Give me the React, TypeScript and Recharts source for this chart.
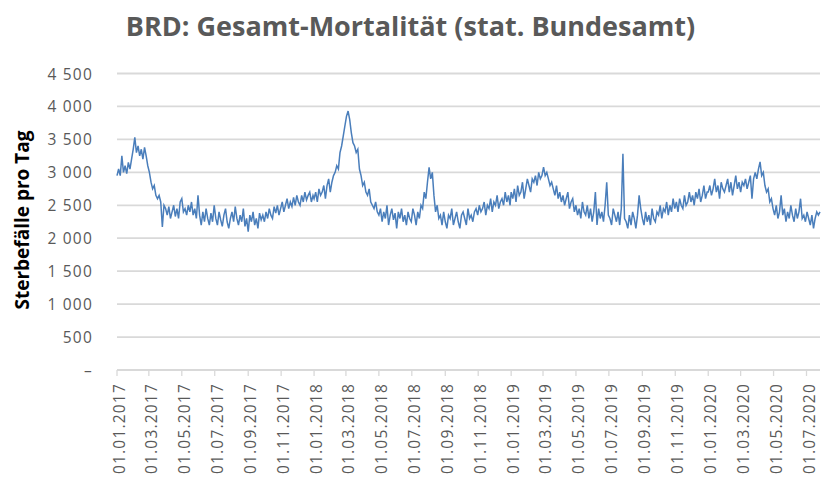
import { LineChart, Line, XAxis, YAxis, CartesianGrid } from "recharts";

// x axis: one label every two months
const tickLabels = [
  "01.01.2017", "01.03.2017", "01.05.2017", "01.07.2017", "01.09.2017", "01.11.2017",
  "01.01.2018", "01.03.2018", "01.05.2018", "01.07.2018", "01.09.2018", "01.11.2018",
  "01.01.2019", "01.03.2019", "01.05.2019", "01.07.2019", "01.09.2019", "01.11.2019",
  "01.01.2020", "01.03.2020", "01.05.2020", "01.07.2020",
];

const yTicks = [0, 500, 1000, 1500, 2000, 2500, 3000, 3500, 4000, 4500];

// deaths per day, one reading every 3 days starting Jan 1 of each year
const STEP = 3;

const deaths2017 = [
  2950, 3050, 2950, 3250, 3000, 3100, 2980, 3150, 3050, 3200,
  3350, 3530, 3300, 3400, 3250, 3350, 3200, 3380, 3250, 3100,
  3000, 2850, 2750, 2800, 2650, 2600, 2650, 2550, 2170, 2500,
  2450, 2350, 2480, 2300, 2400, 2500, 2330, 2450, 2300, 2550,
  2600, 2400, 2450, 2350, 2500, 2400, 2550, 2350, 2450, 2300,
  2650, 2350, 2200, 2400, 2250, 2450, 2300, 2200, 2380, 2250,
  2500, 2300, 2200, 2400, 2280, 2180, 2350, 2450, 2250, 2150,
  2300, 2400, 2250, 2480, 2300, 2200, 2350, 2250, 2450, 2180,
  2300, 2100, 2350, 2250, 2400, 2200, 2300, 2150, 2380, 2280,
  2350, 2250, 2400, 2300, 2450, 2350, 2300, 2480, 2380, 2500,
  2350, 2450, 2550, 2400, 2500, 2600, 2450, 2550, 2480, 2620,
  2500, 2650, 2550, 2500, 2650, 2550, 2700, 2580, 2650, 2700,
  2550, 2650,
];

const deaths2018 = [
  2600, 2700, 2550, 2750, 2650, 2700, 2800, 2600, 2800, 2900,
  2700, 2850, 2950, 3000, 3100, 3050, 3300, 3400, 3550, 3700,
  3850, 3930, 3800, 3600, 3450, 3400, 3300, 3350, 3050, 2950,
  2800, 2850, 2700, 2650, 2750, 2550, 2500, 2450, 2550, 2400,
  2350, 2450, 2250, 2400, 2300, 2500, 2200, 2350, 2450, 2280,
  2380, 2150, 2400, 2300, 2450, 2250, 2350, 2200, 2400, 2300,
  2250, 2450, 2350, 2200, 2400, 2300, 2500, 2450, 2700, 2600,
  2850, 3075, 2900, 3000, 2650, 2400, 2500, 2300, 2350, 2200,
  2400, 2250, 2150, 2350, 2300, 2450, 2200, 2300, 2400, 2250,
  2150, 2350, 2400, 2300, 2200, 2450, 2300, 2350, 2250, 2400,
  2450, 2350, 2500, 2400, 2450, 2550, 2350, 2500, 2450, 2600,
  2400, 2550, 2500, 2650, 2450, 2550, 2600, 2500, 2700, 2550,
  2650, 2500,
];

const deaths2019 = [
  2700, 2600, 2750, 2550, 2800, 2650, 2700, 2850, 2600, 2750,
  2900, 2800, 2700, 2900, 2850, 2950, 2800, 3000, 2900, 2950,
  3080, 2950, 3000, 2900, 2800, 2850, 2750, 2650, 2800, 2600,
  2700, 2550, 2650, 2500, 2600, 2700, 2450, 2550, 2600, 2400,
  2500, 2350, 2450, 2300, 2550, 2400, 2350, 2500, 2300, 2450,
  2250, 2400, 2700, 2200, 2450, 2300, 2400, 2250, 2500, 2850,
  2350, 2300, 2200, 2450, 2350, 2250, 2400, 2200, 2450, 3280,
  2300, 2250, 2150, 2350, 2200, 2400, 2300, 2150, 2350, 2650,
  2450, 2300, 2200, 2400, 2250, 2350, 2200, 2450, 2300, 2250,
  2400, 2350, 2500, 2300, 2450, 2400, 2550, 2350, 2500, 2400,
  2600, 2450, 2550, 2400, 2600, 2500, 2450, 2650, 2500, 2550,
  2700, 2550, 2650, 2500, 2700, 2600, 2750, 2550, 2650, 2800,
  2600, 2700,
];

const deaths2020 = [
  2700, 2800, 2650, 2750, 2900, 2700, 2800, 2600, 2850, 2750,
  2700, 2800, 2900, 2700, 2850, 2650, 2800, 2950, 2750, 2850,
  2700, 2850, 2800, 2900, 2750, 2850, 2950, 2600, 2900, 3000,
  2900, 3050, 3160, 2950, 3000, 2800, 2700, 2750, 2550, 2600,
  2450, 2350, 2500, 2300, 2400, 2650, 2350, 2450, 2250, 2400,
  2300, 2500, 2350, 2250, 2450, 2300, 2400, 2600, 2300, 2350,
  2250, 2400, 2300, 2200, 2350, 2150, 2300, 2400, 2350, 2400,
];

const dayOf = (label: string) => {
  const [d, m, y] = label.split(".").map(Number);
  return (Date.UTC(y, m - 1, d) - Date.UTC(2017, 0, 1)) / 86400000;
};

const years = [
  { start: "01.01.2017", values: deaths2017 },
  { start: "01.01.2018", values: deaths2018 },
  { start: "01.01.2019", values: deaths2019 },
  { start: "01.01.2020", values: deaths2020 },
];

const data = years.flatMap((yr) =>
  yr.values.map((v, i) => ({ day: dayOf(yr.start) + i * STEP, deaths: v }))
);

const xTicks = tickLabels.map(dayOf);
const lastDay = data[data.length - 1].day;

const fmtY = (v: number) =>
  v === 0 ? "–" : v >= 1000 ? `${Math.floor(v / 1000)} ${String(v % 1000).padStart(3, "0")}` : String(v);

const FONT = "'Open Sans', sans-serif";
const GREY = "#595959";

const XTick = (props: any) => {
  const { x, y, payload } = props;
  const idx = xTicks.indexOf(payload.value);
  return (
    <text
      transform={`translate(${x + 2},${y}) rotate(-90)`}
      textAnchor="end"
      dominantBaseline="central"
      fill={GREY}
      fontFamily={FONT}
      fontSize={15.5}
      letterSpacing={1.2}
    >
      {idx >= 0 ? tickLabels[idx] : ""}
    </text>
  );
};

const YTick = (props: any) => {
  const { x, y, payload } = props;
  return (
    <text
      x={x}
      y={y}
      textAnchor="end"
      dominantBaseline="central"
      fill={GREY}
      fontFamily={FONT}
      fontSize={15.5}
      letterSpacing={1.2}
    >
      {fmtY(payload.value)}
    </text>
  );
};

export default function App() {
  return (
    <div style={{ position: "absolute", left: 0, top: 0, width: 821, height: 480, background: "#fff" }}>
      <div
        style={{
          position: "absolute",
          left: 0,
          width: 821,
          top: 9,
          textAlign: "center",
          fontFamily: FONT,
          fontWeight: 700,
          fontSize: 27,
          lineHeight: "34px",
          color: GREY,
        }}
      >
        <span style={{ display: "inline-block", marginLeft: 0 }}>BRD: Gesamt-Mortalität (stat. Bundesamt)</span>
      </div>
      <div
        style={{
          position: "absolute",
          left: 22,
          top: 220,
          transform: "translate(-50%, -50%) rotate(-90deg)",
          whiteSpace: "nowrap",
          fontFamily: FONT,
          fontWeight: 700,
          fontSize: 19,
          color: "#000",
        }}
      >
        Sterbefälle pro Tag
      </div>
      <LineChart
        width={821}
        height={480}
        data={data}
        margin={{ top: 73.5, right: 1, bottom: 0, left: 0 }}
      >
        <CartesianGrid horizontal vertical={false} stroke="#d9d9d9" strokeWidth={1.8} />
        <XAxis
          dataKey="day"
          type="number"
          domain={[0, lastDay]}
          ticks={xTicks}
          interval={0}
          height={110}
          tick={<XTick />}
          tickSize={6}
          tickMargin={7}
          axisLine={{ stroke: "#d9d9d9", strokeWidth: 1.8 }}
          tickLine={{ stroke: "#d9d9d9", strokeWidth: 1.3 }}
        />
        <YAxis
          domain={[0, 4500]}
          ticks={yTicks}
          interval={0}
          width={117}
          tick={<YTick />}
          tickSize={0}
          tickMargin={24}
          axisLine={false}
          tickLine={false}
        />
        <Line
          type="linear"
          dataKey="deaths"
          stroke="#4a7ebb"
          strokeWidth={1.5}
          dot={false}
          isAnimationActive={false}
        />
      </LineChart>
    </div>
  );
}
